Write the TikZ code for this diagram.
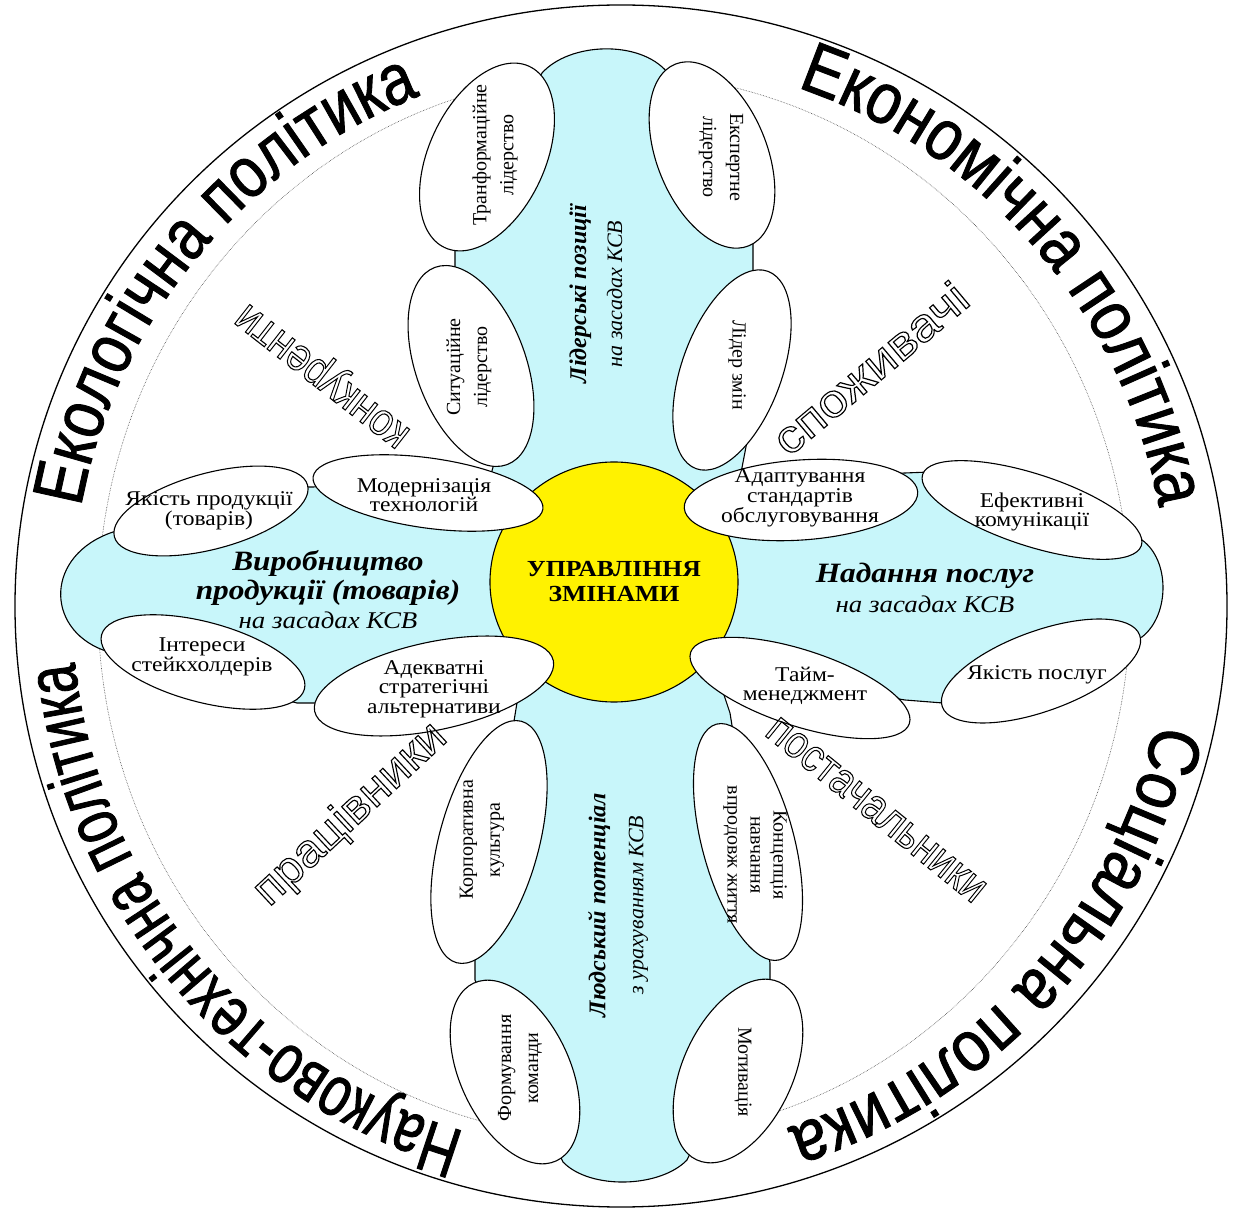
\documentclass[tikz,border=0pt]{standalone}
\usepackage{fontspec}
\usepackage{graphicx}
\usetikzlibrary{shapes.geometric,decorations.text}
\setmainfont{Liberation Serif}
\newfontfamily\hfont[FakeStretch=1.12]{Liberation Serif}
\newfontfamily\ringfonta[FakeStretch=0.84,FakeBold=1.2]{Liberation Sans}
\newfontfamily\ringfontb[FakeStretch=0.85,FakeBold=1.2]{Liberation Sans}
\newfontfamily\ringfontc[FakeStretch=0.88,FakeBold=1.2]{Liberation Sans}
\newfontfamily\ringfontn[FakeStretch=0.73,FakeBold=1.2]{Liberation Sans}
\newfontfamily\actorfont{Liberation Sans}
\definecolor{bandblue}{RGB}{200,246,250}
% hollow letters: stroke only
\newcommand\hollow[1]{\special{pdf:literal direct 1 Tr 1.1 w}#1\special{pdf:literal direct 0 Tr}}
\tikzset{
  bubble/.style={ellipse, draw, fill=white, line width=1.1pt, inner sep=0pt},
  htext/.style={font=\hfont\fontsize{21}{19.5}\selectfont, align=center, inner sep=0pt},
  vtext/.style={font=\fontsize{20}{27}\selectfont, align=center, inner sep=0pt},
  ringtext/.style={decorate, decoration={text along path, text align=center, text={#1}}},
  actor/.style={font=\actorfont\fontsize{46}{46}\selectfont, inner sep=0pt}
}
\begin{document}
\begin{tikzpicture}[x=1pt,y=1pt]
  \useasboundingbox (-620,-603) rectangle (616,606);
  % rings
  \draw[densely dotted, line width=0.6pt, black!70] (-6,0) ellipse [x radius=516, y radius=533];
  \draw[line width=1.3pt] (1,0) ellipse [x radius=606, y radius=601];

  % cross band
  \draw[fill=bandblue, line width=1.1pt] (-78,533) .. controls (-50,564) and (20,566) .. (47,534)
    -- (133,364) -- (133,338) -- (130,180) -- (120,128) -- (260,132) -- (310,134) -- (522,66)
    .. controls (550,46) and (550,-9) .. (522,-31)
    -- (323,-97) -- (285,-94) -- (95,-62) -- (110,-107) -- (150,-357) -- (150,-377) -- (67,-554)
    .. controls (40,-582) and (-30,-584) .. (-57,-556)
    -- (-145,-374) -- (-145,-354) -- (-105,-109) -- (-98,-66) -- (-300,-97) -- (-323,-97) -- (-517,-44)
    .. controls (-575,-22) and (-575,51) .. (-507,74)
    -- (-317,119) -- (-307,119) -- (-130,128) -- (-125,146) -- (-165,339) -- (-165,359) -- cycle;

  \node[ellipse, draw, fill=yellow, line width=1.1pt, minimum width=248pt, minimum height=240pt,
        inner sep=0pt, align=center, font=\hfont\bfseries\fontsize{23}{25}\selectfont]
        (hub) at (-6,24) {УПРАВЛІННЯ\\ЗМІНАМИ};

  % leadership
  \node[bubble, minimum width=200pt, minimum height=116pt, rotate=65]  (e1) at (-133,449) {};
  \node[bubble, minimum width=210pt, minimum height=110pt, rotate=110] (e2) at (-149,240) {};
  \node[bubble, minimum width=196pt, minimum height=110pt, rotate=112] (e3) at (92,451) {};
  \node[bubble, minimum width=210pt, minimum height=100pt, rotate=70]  (e4) at (112,236) {};
  \node[vtext, rotate=90]  (t1) at (-125,451) {Транформаційне\\лідерство};
  \node[vtext, rotate=90]  (t2) at (-151,239) {Ситуаційне\\лідерство};
  \node[vtext, rotate=-90] (t3) at (101,449) {Експертне\\лідерство};
  \node[vtext, rotate=-90] (t4) at (117,241) {Лідер змін};

  % production
  \node[bubble, minimum width=200pt, minimum height=76pt, rotate=15]  (e5) at (-409,95) {};
  \node[bubble, minimum width=232pt, minimum height=70pt, rotate=-8]  (e6) at (-192,113) {};
  \node[bubble, minimum width=210pt, minimum height=80pt, rotate=-15] (e7) at (-417,-56) {};
  \node[bubble, minimum width=244pt, minimum height=88pt, rotate=12]  (e8) at (-186,-80) {};
  \node[htext] (t5) at (-411,95) {Якість продукції\\(товарів)};
  \node[htext] (t6) at (-196,111) {Модернізація\\технологій};
  \node[htext] (t7) at (-418,-51) {Інтереси\\стейкхолдерів};
  \node[htext] (t8) at (-186,-83) {Адекватні\\стратегічні\\альтернативи};

  % services
  \node[bubble, minimum width=234pt, minimum height=80pt, rotate=4]   (e9) at (181,106) {};
  \node[bubble, minimum width=230pt, minimum height=72pt, rotate=-18] (e10) at (412,96) {};
  \node[bubble, minimum width=230pt, minimum height=76pt, rotate=-18] (e11) at (180,-82) {};
  \node[bubble, minimum width=210pt, minimum height=80pt, rotate=20]  (e12) at (421,-65) {};
  \node[htext] (t9) at (180,108) {Адаптування\\стандартів\\обслуговування};
  \node[htext] (t10) at (412,94) {Ефективні\\комунікації};
  \node[htext] (t11) at (185,-80) {Тайм-\\менеджмент};
  \node[htext] (t12) at (417,-69) {Якість послуг};

  % human potential
  \node[bubble, minimum width=250pt, minimum height=100pt, rotate=75]  (e13) at (-131,-236) {};
  \node[bubble, minimum width=244pt, minimum height=92pt, rotate=105]  (e14) at (128,-236) {};
  \node[bubble, minimum width=196pt, minimum height=110pt, rotate=115] (e15) at (-105,-466) {};
  \node[bubble, minimum width=196pt, minimum height=110pt, rotate=65]  (e16) at (118,-465) {};
  \node[vtext, rotate=90]  (t13) at (-138,-234) {Корпоративна\\культура};
  \node[vtext, rotate=-90, font=\fontsize{20}{23}\selectfont] (t14) at (135,-249) {Концепція\\навчання\\впродовж життя};
  \node[vtext, rotate=90]  (t15) at (-100,-462) {Формування\\команди};
  \node[vtext, rotate=-90] (t16) at (123,-466) {Мотивація};

  % band captions
  \node[rotate=90, align=center, inner sep=0pt, font=\fontsize{24}{36}\selectfont] (lead) at (-24,312)
    {{\bfseries\itshape Лідерські позиції}\\{\fontsize{22}{36}\selectfont\itshape на засадах КСВ}};
  \node[rotate=90, align=center, inner sep=0pt, font=\fontsize{24}{38}\selectfont] (human) at (-2,-299)
    {{\bfseries\itshape Людський потенціал}\\{\fontsize{22}{38}\selectfont\itshape з урахуванням КСВ}};
  \node[align=center, inner sep=0pt, font=\hfont\fontsize{28}{29}\selectfont] (make) at (-292,16)
    {{\bfseries\itshape Виробництво}\\{\bfseries\itshape продукції (товарів)}\\{\fontsize{24}{26}\selectfont\itshape на засадах КСВ}};
  \node[align=center, inner sep=0pt, font=\hfont\fontsize{28}{30}\selectfont] (serve) at (305,18)
    {{\bfseries\itshape Надання послуг}\\{\fontsize{24}{30}\selectfont\itshape на засадах КСВ}};

  % stakeholders
  \node[actor, rotate=142] (rival) at (-295,233) {\scalebox{0.875}[1]{\hollow{конкуренти}}};
  \node[actor, rotate=40]  (buyer) at (250,238) {\scalebox{1.13}[1]{\hollow{споживачі}}};
  \node[actor, rotate=43]  (staff) at (-269,-209) {\scalebox{1.05}[1]{\hollow{працівники}}};
  \node[actor, rotate=-39] (supplier) at (256,-204) {\scalebox{0.854}[1]{\hollow{постачальники}}};

  % policies
  \path[ringtext={|\ringfonta\fontsize{72}{72}\selectfont|Екологічна політика}] (180.5:548) arc[start angle=180.5, end angle=100.5, radius=548];
  \path[ringtext={|\ringfontb\fontsize{72}{72}\selectfont|Економічна політика}] (80.75:548) arc[start angle=80.75, end angle=0.75, radius=548];
  \path[ringtext={|\ringfontc\fontsize{72}{72}\selectfont|Соціальна політика}] (-2.3:548) arc[start angle=-2.3, end angle=-82.3, radius=548];
  \path[ringtext={|\ringfontn\fontsize{72}{72}\selectfont|Науково-технічна політика}] (259.75:548) arc[start angle=259.75, end angle=179.75, radius=548];
\end{tikzpicture}
\end{document}
